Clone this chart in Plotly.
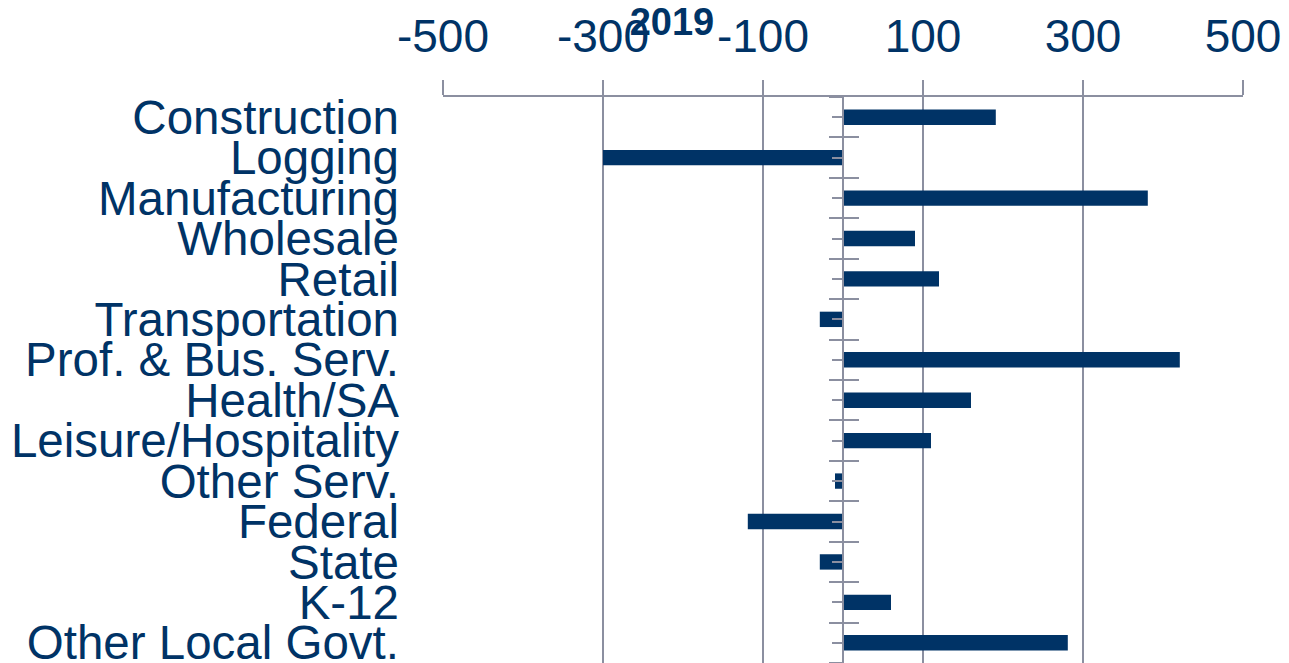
import plotly.graph_objects as go

# Datos: variación del empleo por sector, 2019
sectores = [
    "Construction", "Logging", "Manufacturing", "Wholesale", "Retail",
    "Transportation", "Prof. & Bus. Serv.", "Health/SA", "Leisure/Hospitality",
    "Other Serv.", "Federal", "State", "K-12", "Other Local Govt.",
]
valores = [191, -300, 381, 90, 120, -29, 421, 160, 110, -10, -119, -29, 60, 281]
ticks_x = [-500, -300, -100, 100, 300, 500]
etiquetas_x = ["-500", "-300", "-100", "100", "300", "500"]
titulo = "2019"

AZUL = "#003366"
GRIS = "#8b8fa0"
FUENTE = "Arial, Liberation Sans, sans-serif"

posiciones = list(range(len(sectores)))
limites = [p - 0.5 for p in posiciones] + [len(sectores) - 0.5]
rango_y = [len(sectores) - 0.5, -0.5]

fig = go.Figure()
fig.add_trace(go.Bar(
    x=valores, y=posiciones, orientation="h",
    width=0.38, marker=dict(color=AZUL, line=dict(width=0)),
    showlegend=False,
))

# la página añade 8 px de margen al cuerpo; se compensa aquí
fig.update_layout(
    width=1289, height=663,
    margin=dict(l=435, r=54, t=89, b=8, autoexpand=False),
    paper_bgcolor="white", plot_bgcolor="white",
    font=dict(family=FUENTE, color=AZUL),
    title=dict(
        text=f"<b>{titulo}</b>", x=(672 - 443) / 800, xref="paper", xanchor="center",
        y=1 - 14 / 663, yanchor="middle",
        font=dict(size=38, family=FUENTE, color=AZUL),
    ),
    xaxis=dict(
        side="top", range=[-500, 500], tickvals=ticks_x, ticktext=etiquetas_x,
        tickfont=dict(size=46, color=AZUL), automargin=False,
        showgrid=True, gridcolor=GRIS, gridwidth=2,
        zeroline=True, zerolinecolor=GRIS, zerolinewidth=2,
        showline=True, linecolor=GRIS, linewidth=2,
        ticks="outside", ticklen=15, tickwidth=2, tickcolor=GRIS,
        ticklabelstandoff=10,
    ),
    yaxis=dict(
        range=rango_y, tickvals=posiciones, ticktext=sectores,
        tickfont=dict(size=47.5, color=AZUL), automargin=False,
        showgrid=False, zeroline=False, showline=False, ticks="",
        ticklabelstandoff=43, ticklabeloverflow="allow",
    ),
    # eje central en x=0 con marcas cruzadas en los límites de categoría
    yaxis2=dict(
        overlaying="y", anchor="free", position=0.5, side="left",
        range=rango_y, tickvals=limites, showticklabels=False, automargin=False,
        showgrid=False, zeroline=False,
        showline=True, linecolor=GRIS, linewidth=2,
        ticks="outside", ticklen=13, tickwidth=2, tickcolor=GRIS,
        minor=dict(tickvals=posiciones, ticks="outside", ticklen=10,
                   tickwidth=2, tickcolor=GRIS),
    ),
    yaxis3=dict(
        overlaying="y", anchor="free", position=0.5, side="left",
        range=rango_y, tickvals=limites, showticklabels=False, automargin=False,
        showgrid=False, zeroline=False, showline=False,
        ticks="inside", ticklen=15, tickwidth=2, tickcolor=GRIS,
    ),
)

# trazas vacías para que los ejes auxiliares se dibujen
fig.add_trace(go.Scatter(x=[None], y=[None], yaxis="y2", showlegend=False, hoverinfo="skip"))
fig.add_trace(go.Scatter(x=[None], y=[None], yaxis="y3", showlegend=False, hoverinfo="skip"))

fig.write_html("out.html")
